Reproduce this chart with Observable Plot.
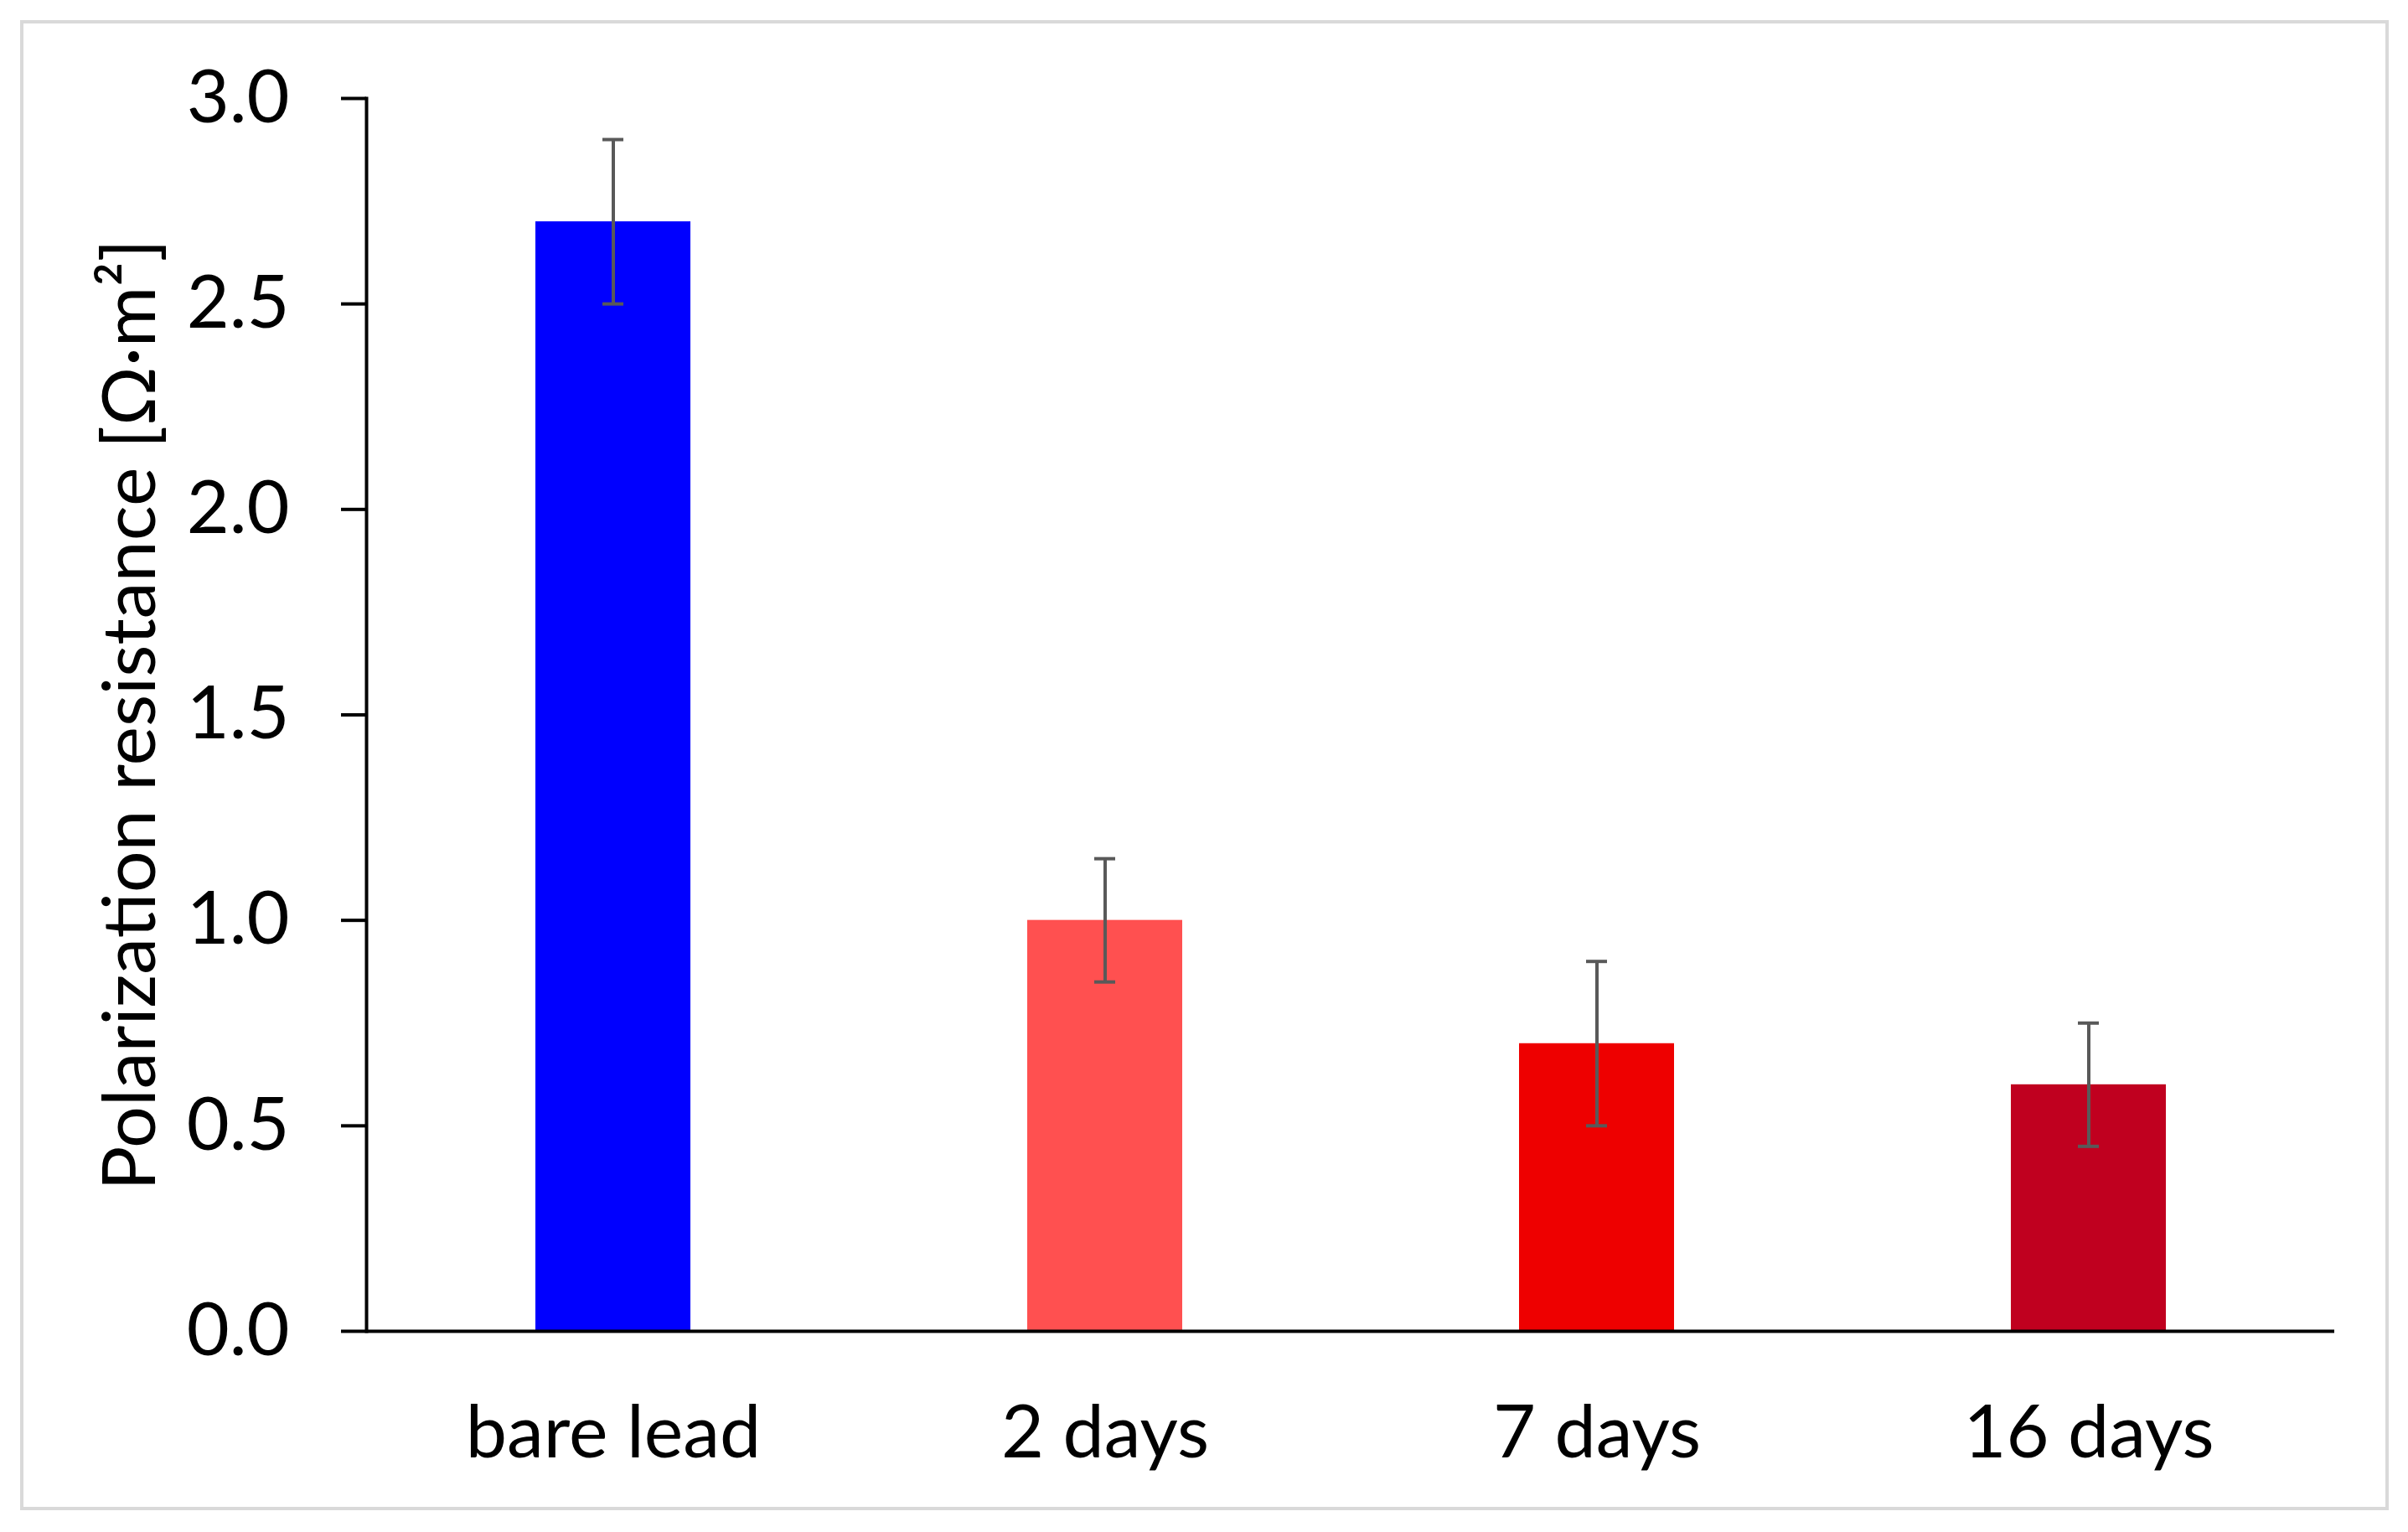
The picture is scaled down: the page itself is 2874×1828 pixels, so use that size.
<!DOCTYPE html>
<html>
<head>
<meta charset="utf-8">
<script src="https://cdn.jsdelivr.net/npm/d3@7"></script>
<script src="https://cdn.jsdelivr.net/npm/@observablehq/plot@0.6"></script>
<style>
  html, body { margin: 0; padding: 0; background: #fff; }
  #wrap { position: relative; width: 2874px; height: 1828px; }
  #border { position: absolute; left: 24px; top: 24px; width: 2827px; height: 1778px;
            border: 4px solid #d9d9d9; box-sizing: border-box; pointer-events: none; }
  svg { display: block; }
</style>
</head>
<body>
<div id="wrap"><div id="border"></div></div>
<script>
const categories = ["bare lead", "2 days", "7 days", "16 days"];
const values = [2.7, 1.0, 0.7, 0.6];
const errLow = [2.5, 0.85, 0.5, 0.45];
const errHigh = [2.9, 1.15, 0.9, 0.75];
const barColors = ["#0000FF", "#FF5050", "#EE0000", "#C0001F"];
const yTicks = [0, 0.5, 1.0, 1.5, 2.0, 2.5, 3.0];
const yLabel = "Polarization resistance [Ω·m²]";

const data = categories.map((c, i) => ({cat: c, value: values[i], low: errLow[i], high: errHigh[i]}));
const errColor = "#595959";

const chart = Plot.plot({
  width: 2874,
  height: 1828,
  marginLeft: 437,
  marginRight: 88,
  marginTop: 117,
  marginBottom: 240,
  style: {fontFamily: "Lato, sans-serif", fontSize: "88px", background: "transparent", color: "#000"},
  x: {domain: categories, paddingInner: 0.685, paddingOuter: 0.3425, label: null},
  y: {domain: [0, 3], label: null},
  color: {domain: categories, range: barColors},
  marks: [
    Plot.barY(data, {x: "cat", y: "value", fill: "cat"}),
    Plot.ruleX(data, {x: "cat", y1: "low", y2: "high", stroke: errColor, strokeWidth: 4}),
    Plot.tickY(data, {x: "cat", y: "low", stroke: errColor, strokeWidth: 4, insetLeft: 80, insetRight: 80}),
    Plot.tickY(data, {x: "cat", y: "high", stroke: errColor, strokeWidth: 4, insetLeft: 80, insetRight: 80}),
    Plot.ruleY([0], {stroke: "#000", strokeWidth: 4}),
    Plot.frame({anchor: "left", stroke: "#000", strokeWidth: 4}),
    Plot.axisY({ticks: yTicks, tickSize: 30, tickPadding: 62, strokeWidth: 4,
      tickFormat: d3.format(".1f"), label: yLabel, labelAnchor: "center", labelArrow: "none", labelOffset: 315}),
    Plot.axisX({tickSize: 0, tickPadding: 88, label: null})
  ]
});
document.getElementById("wrap").prepend(chart);
</script>
</body>
</html>
